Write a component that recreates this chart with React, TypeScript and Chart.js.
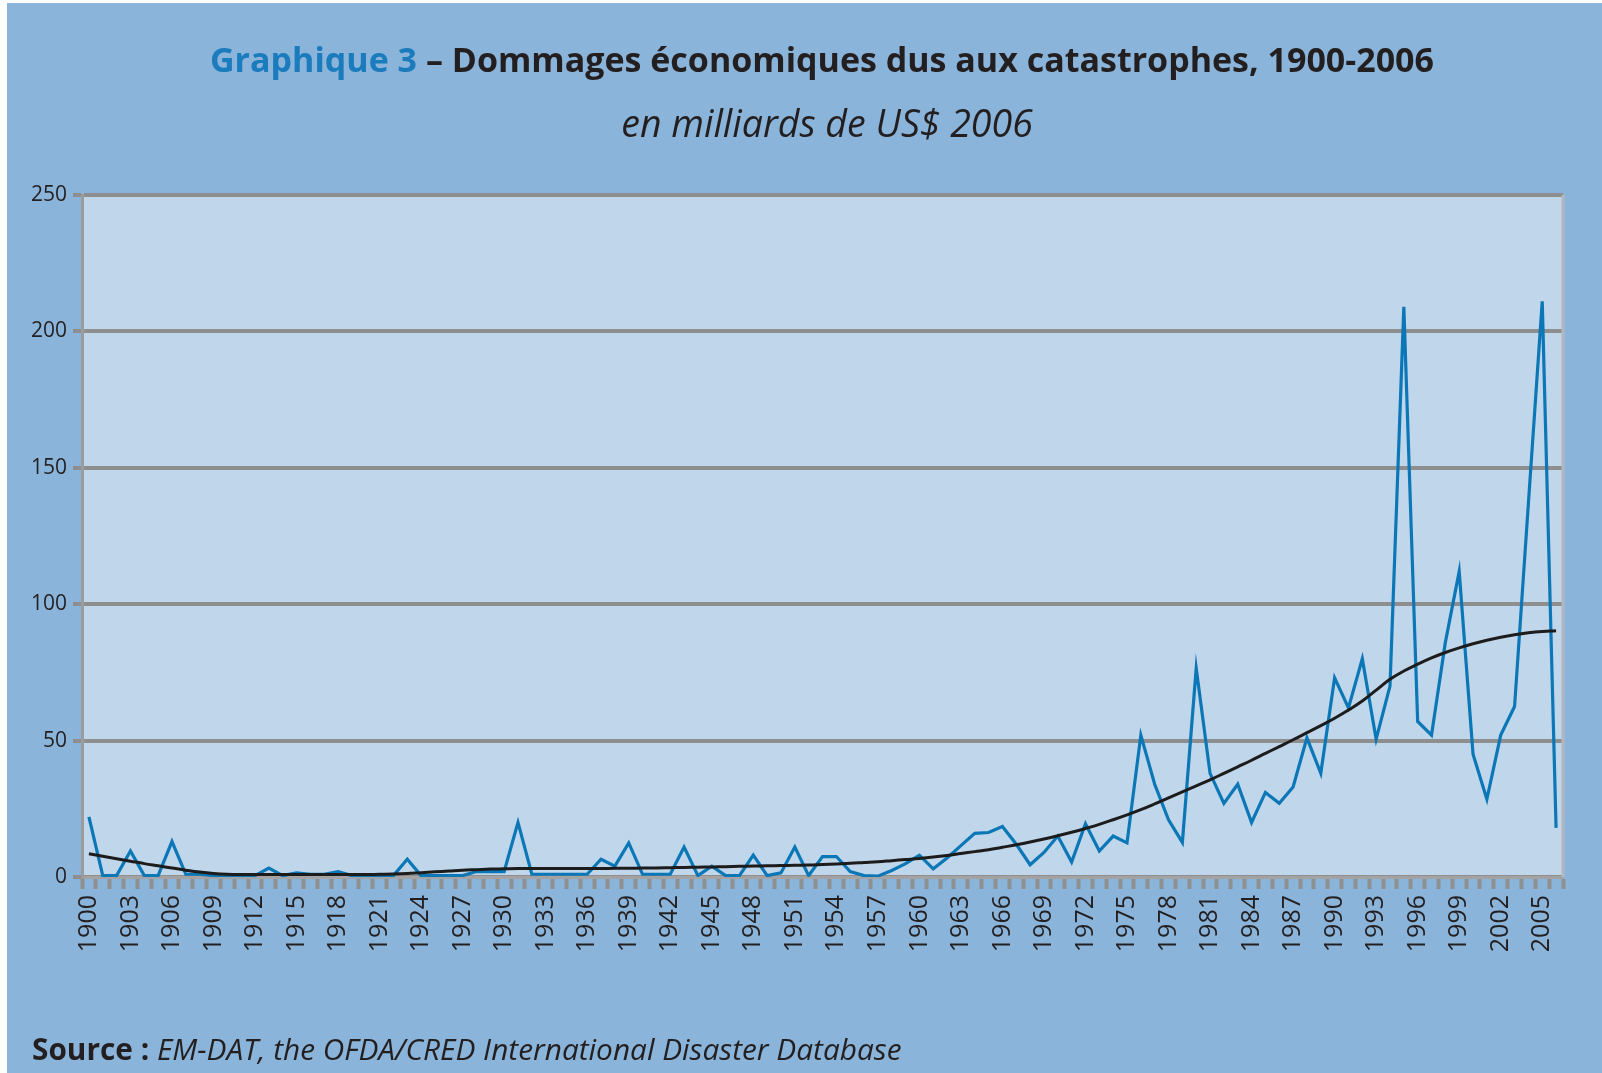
import React, { useEffect, useRef } from "react";
import { Chart, registerables } from "chart.js";

Chart.register(...registerables);

const startYear = 1900;
const years: string[] = Array.from({ length: 107 }, (_, i) => String(startYear + i));

// Economic damages, billions of 2006 US$
const damages: number[] = [
  // 1900-1909
  22, 0.5, 0.5, 9.5, 0.5, 0.5, 13, 1, 1, 0.5,
  // 1910-1919
  0.5, 0.5, 0.5, 3.3, 0.5, 1.5, 1, 1, 2, 0.5,
  // 1920-1929
  0.5, 0.5, 0.5, 6.5, 0.5, 0.5, 0.5, 0.5, 2, 2,
  // 1930-1939
  2, 20, 1, 1, 1, 1, 1, 6.5, 4, 12.5,
  // 1940-1949
  1, 1, 1, 11, 0.5, 4, 0.5, 0.5, 8, 0.5,
  // 1950-1959
  1.5, 11, 0.5, 7.5, 7.5, 2, 0.5, 0.3, 2.4, 4.9,
  // 1960-1969
  8, 3, 7, 11.5, 16, 16.3, 18.5, 12, 4.5, 9,
  // 1970-1979
  15, 5.5, 19.5, 9.5, 15, 12.5, 52, 34, 21, 12.7,
  // 1980-1989
  76.5, 38, 27, 34, 20, 31, 27, 33, 51, 38,
  // 1990-1999
  73, 62, 80, 50.5, 70, 209, 57, 52, 86, 112,
  // 2000-2006
  45, 28.5, 52, 62.5, 137, 211, 18,
];

// Trend curve
const trend: number[] = [
  // 1900-1909
  8.5, 7.6, 6.7, 5.8, 4.9, 4.1, 3.3, 2.5, 1.8, 1.3,
  // 1910-1919
  1, 0.9, 0.9, 0.9, 0.9, 0.9, 0.9, 0.9, 0.9, 0.9,
  // 1920-1929
  0.9, 1, 1.1, 1.3, 1.6, 1.9, 2.2, 2.5, 2.7, 2.9,
  // 1930-1939
  3, 3.1, 3.1, 3.1, 3.1, 3.1, 3.1, 3.1, 3.2, 3.2,
  // 1940-1949
  3.3, 3.3, 3.4, 3.5, 3.6, 3.7, 3.8, 3.9, 4, 4.1,
  // 1950-1959
  4.2, 4.3, 4.4, 4.6, 4.8, 5, 5.3, 5.6, 6, 6.4,
  // 1960-1969
  6.8, 7.3, 7.9, 8.6, 9.3, 10, 10.9, 11.8, 12.8, 13.9,
  // 1970-1979
  15.1, 16.4, 17.8, 19.3, 21, 22.8, 24.7, 26.8, 29, 31.2,
  // 1980-1989
  33.4, 35.6, 38, 40.4, 42.8, 45.3, 47.8, 50.3, 52.9, 55.5,
  // 1990-1999
  58.2, 61.2, 64.5, 68.5, 72.5, 75.5, 78, 80.3, 82.3, 84,
  // 2000-2006
  85.5, 86.8, 87.9, 88.8, 89.5, 90, 90.3,
];

const yTicks: number[] = [0, 50, 100, 150, 200, 250];
const labelEvery = 3;

const FONT = "'Open Sans', 'Noto Sans', sans-serif";
const TEXT = "#231f20";

export default function App() {
  const canvasRef = useRef<HTMLCanvasElement | null>(null);

  useEffect(() => {
    document.body.style.margin = "0";
    document.body.style.overflow = "hidden";
    const canvas = canvasRef.current;
    if (!canvas) return;

    const plotBg = {
      id: "plotBg",
      beforeDraw(chart: any) {
        const { ctx, chartArea } = chart;
        ctx.save();
        ctx.fillStyle = "#c0d6eb";
        ctx.fillRect(chartArea.left, chartArea.top, chartArea.right - chartArea.left, chartArea.bottom - chartArea.top);
        ctx.restore();
      },
      afterDraw(chart: any) {
        const { ctx, chartArea } = chart;
        ctx.save();
        ctx.strokeStyle = "#b2b8be";
        ctx.lineWidth = 3;
        ctx.beginPath();
        ctx.moveTo(chartArea.right, chartArea.top);
        ctx.lineTo(chartArea.right, chartArea.bottom);
        ctx.stroke();
        ctx.restore();
      },
    };

    const chart = new Chart(canvas, {
      type: "line",
      data: {
        labels: years,
        datasets: [
          {
            label: "Dommages",
            data: damages,
            borderColor: "#0b77b6",
            borderWidth: 3.2,
            pointRadius: 0,
            tension: 0,
            fill: false,
            order: 2,
          },
          {
            label: "Tendance",
            data: trend,
            borderColor: "#1c1c1c",
            borderWidth: 3,
            pointRadius: 0,
            tension: 0.4,
            fill: false,
            order: 1,
          },
        ],
      },
      options: {
        responsive: false,
        devicePixelRatio: 1,
        animation: false,
        events: [],
        layout: { padding: { left: 12, right: 39, top: 195, bottom: 116 } },
        plugins: {
          legend: { display: false },
          title: { display: false },
          tooltip: { enabled: false },
        },
        scales: {
          x: {
            type: "category",
            offset: true,
            grid: {
              offset: true,
              drawOnChartArea: false,
              drawTicks: true,
              tickLength: 12,
              tickWidth: 4,
              tickColor: "#8f8f8f",
            },
            border: { display: true, color: "#a3a3a3", width: 3 },
            ticks: {
              autoSkip: false,
              maxRotation: 90,
              minRotation: 90,
              padding: 6,
              color: TEXT,
              font: { family: FONT, size: 25 },
              callback: (_v: any, i: number) => (i % labelEvery === 0 ? years[i] : ""),
            },
            afterFit: (s: any) => {
              s.height = 80;
            },
          },
          y: {
            min: yTicks[0],
            max: yTicks[yTicks.length - 1],
            afterBuildTicks: (s: any) => {
              s.ticks = yTicks.map((v) => ({ value: v }));
            },
            ticks: {
              color: TEXT,
              padding: 6,
              font: { family: FONT, size: 21 },
            },
            grid: {
              color: "#8e8e8e",
              lineWidth: 4,
              drawTicks: true,
              tickLength: 9,
              tickColor: "#8e8e8e",
            },
            border: { display: true, color: "#9c9c9c", width: 3 },
            afterFit: (s: any) => {
              s.width = 70;
            },
          },
        },
      },
      plugins: [plotBg],
    });

    return () => chart.destroy();
  }, []);

  return (
    <div style={{ position: "relative", width: 1602, height: 1073, background: "#ffffff", overflow: "hidden" }}>
      <div style={{ position: "absolute", left: 7, top: 3, right: 0, bottom: 0, background: "#8ab4d9" }} />
      <canvas
        ref={canvasRef}
        width={1602}
        height={1073}
        style={{ position: "absolute", left: 0, top: 0, width: 1602, height: 1073, display: "block" }}
      />
      <div
        style={{
          position: "absolute",
          left: 42,
          width: 1560,
          top: 37,
          lineHeight: "44px",
          textAlign: "center",
          fontFamily: FONT,
          fontWeight: 700,
          fontSize: 34,
          color: TEXT,
          whiteSpace: "nowrap",
        }}
      >
        <span style={{ color: "#1a7bbd" }}>Graphique 3</span> – Dommages économiques dus aux catastrophes, 1900-2006
      </div>
      <div
        style={{
          position: "absolute",
          left: 52,
          width: 1550,
          top: 101,
          lineHeight: "44px",
          textAlign: "center",
          fontFamily: FONT,
          fontStyle: "italic",
          fontSize: 37.5,
          color: TEXT,
          whiteSpace: "nowrap",
        }}
      >
        en milliards de US$ 2006
      </div>
      <div
        style={{
          position: "absolute",
          left: 32,
          top: 1031,
          lineHeight: "36px",
          fontFamily: FONT,
          fontSize: 29.8,
          color: TEXT,
          whiteSpace: "nowrap",
        }}
      >
        <span style={{ fontWeight: 700 }}>Source :</span> <span style={{ fontStyle: "italic" }}>EM-DAT, the OFDA/CRED International Disaster Database</span>
      </div>
    </div>
  );
}
